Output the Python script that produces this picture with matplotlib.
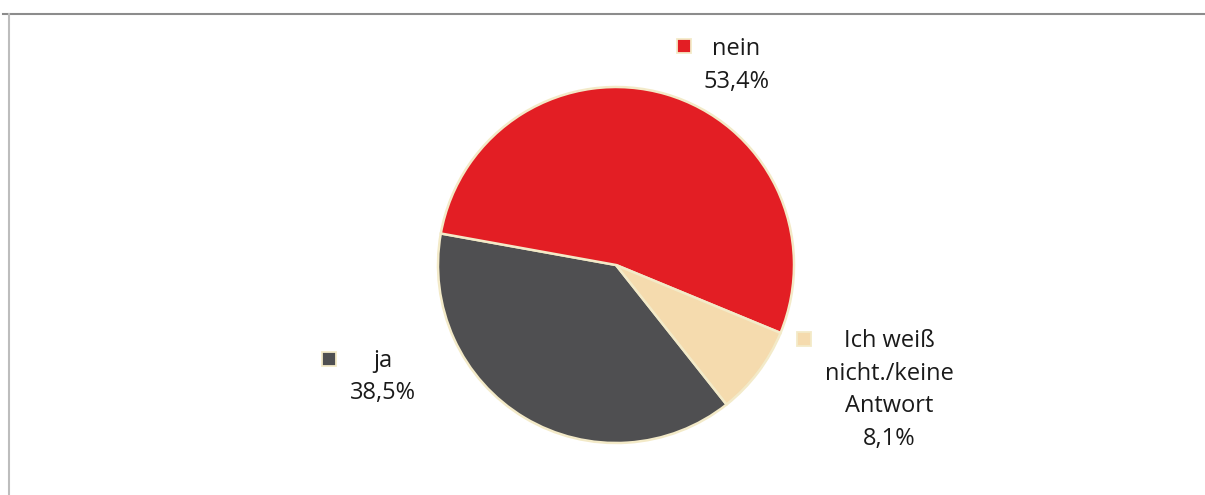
import matplotlib.pyplot as plt
from matplotlib.lines import Line2D

# data
labels = ['ja', 'nein', 'Ich weiß\nnicht./keine\nAntwort']
values = [38.5, 53.4, 8.1]
pct_text = ['38,5%', '53,4%', '8,1%']
colors = ['#4F4F51', '#E31E24', '#F5DBAE']

W, H = 1205, 495
fig = plt.figure(figsize=(W / 100, H / 100), dpi=100)
plt.rcParams['font.family'] = ['Open Sans', 'DejaVu Sans']


def fx(px):
    return px / W


def fy(py):
    return 1 - py / H


# frame lines of the original chart area
fig.add_artist(Line2D([fx(3), 1], [fy(13.5), fy(13.5)], color='#8c8c8c', lw=1.5))
fig.add_artist(Line2D([fx(8.5), fx(8.5)], [fy(13.5), 0], color='#bdbdbd', lw=1.5))

# pie
cx, cy, r = 616, 265, 178
ax = fig.add_axes([fx(cx - r), fy(cy + r), 2 * r / W, 2 * r / H])
ax.pie(values, colors=colors, startangle=-51.6, counterclock=False,
       wedgeprops=dict(edgecolor='#F3EAC8', linewidth=1.8))
ax.set_xlim(-1, 1)
ax.set_ylim(-1, 1)
ax.set_aspect('auto')
ax.axis('off')

# labels: (square x, square y, text x, first line y)
pos = [(329, 359, 383, 361),
       (684, 46, 736, 49),
       (804, 339, 889, 341)]
line_h = 32.5
for i in range(len(values)):
    sx, sy, tx, ty = pos[i]
    fig.add_artist(Line2D([fx(sx)], [fy(sy)], marker='s', markersize=10,
                          markerfacecolor=colors[i], markeredgecolor='#F3EAC8',
                          markeredgewidth=1.3, linestyle='none'))
    lines = labels[i].split('\n') + [pct_text[i]]
    for k, t in enumerate(lines):
        fig.text(fx(tx), fy(ty + k * line_h), t, ha='center', va='center',
                 fontsize=17, color='#1a1a1a')

fig.savefig('out.png', dpi=100)
